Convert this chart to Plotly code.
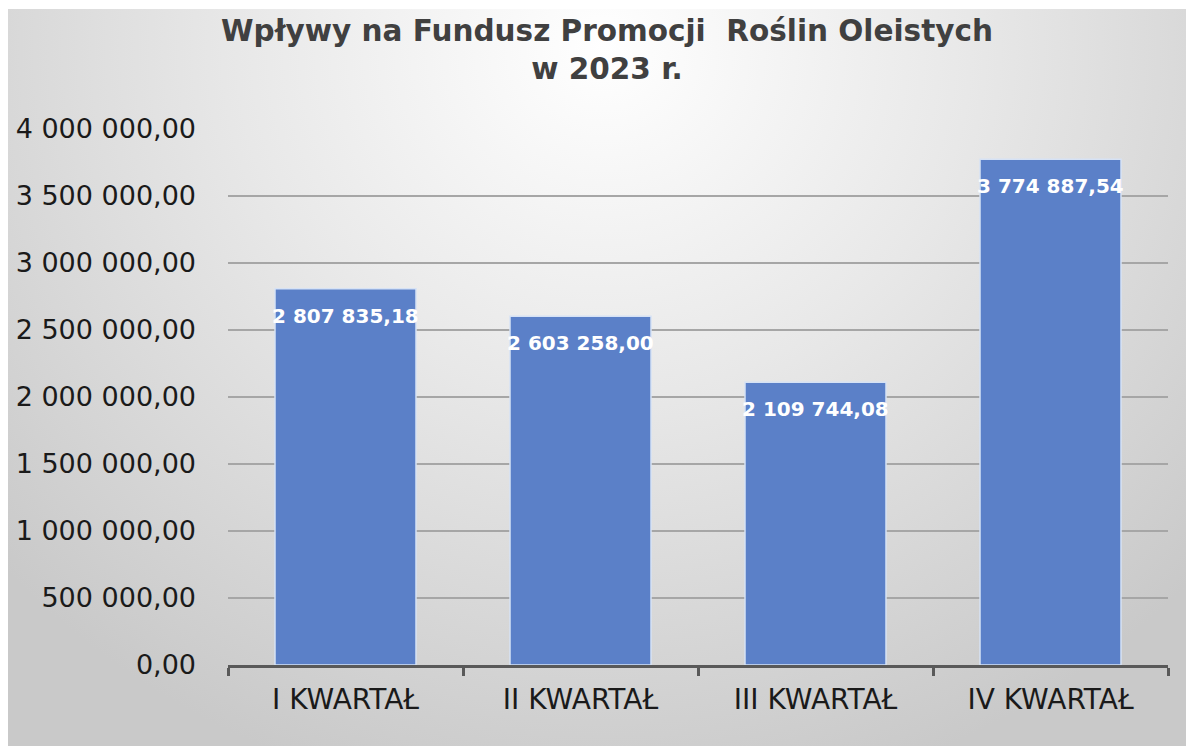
import base64
import plotly.graph_objects as go

categories = ["I KWARTAŁ", "II KWARTAŁ", "III KWARTAŁ", "IV KWARTAŁ"]
values = [2807835.18, 2603258.00, 2109744.08, 3774887.54]
y_ticks = [0, 500000, 1000000, 1500000, 2000000, 2500000, 3000000, 3500000, 4000000]
title_lines = ["Wpływy na Fundusz Promocji\u00a0 Roślin Oleistych", "w 2023 r."]


def pl_fmt(v):
    return f"{v:,.2f}".replace(",", " ").replace(".", ",")


W, H = 1186, 746
L, R, T, B = 228, 1168, 129, 665
pw, ph = R - L, B - T

svg = f"""<svg xmlns='http://www.w3.org/2000/svg' width='{W}' height='{H}' viewBox='0 0 {W} {H}' preserveAspectRatio='none'>
<defs><radialGradient id='g' gradientUnits='userSpaceOnUse' cx='600' cy='40' r='820'
 gradientTransform='translate(600 40) scale(1 0.95) translate(-600 -40)'>
<stop offset='0' stop-color='#ffffff'/><stop offset='0.45' stop-color='#e8e8e8'/>
<stop offset='1' stop-color='#c9c9c9'/></radialGradient></defs>
<rect x='0' y='0' width='{W}' height='{H}' fill='url(#g)'/></svg>"""
src = "data:image/svg+xml;base64," + base64.b64encode(svg.encode()).decode()

fx0, fy0 = 8, 9  # frame top-left in pixels
img_x = (fx0 - L) / pw
img_y = (B - fy0) / ph
img_sx = (W - fx0) / pw
img_sy = (H - fy0) / ph

fig = go.Figure()
fig.add_trace(go.Bar(
    x=categories, y=values,
    marker=dict(color="#5b80c8", line=dict(color="#d6e2f5", width=1.5)),
    hoverinfo="x+y",
))

for c, v in zip(categories, values):
    fig.add_annotation(x=c, y=v, text=pl_fmt(v), showarrow=False,
                       yanchor="middle", yshift=-27,
                       font=dict(family="DejaVu Sans", size=20, color="white", weight="bold"))

fig.add_annotation(x=(607 - L) / pw, y=(B - 50) / ph, xref="paper", yref="paper",
                   text="<br>".join(title_lines), showarrow=False,
                   xanchor="center", yanchor="middle", align="center",
                   font=dict(family="DejaVu Sans", size=29.5, color="#404040", weight="bold"))

fig.update_layout(
    width=W, height=H,
    margin=dict(l=L, r=W - R, t=T, b=H - B, autoexpand=False),
    paper_bgcolor="white", plot_bgcolor="rgba(0,0,0,0)",
    separators=", ",
    bargap=0.4,
    showlegend=False,
    font=dict(family="DejaVu Sans", size=27, color="#1a1a1a"),
    images=[dict(source=src, xref="paper", yref="paper", x=img_x, y=img_y,
                 sizex=img_sx, sizey=img_sy, xanchor="left", yanchor="top",
                 sizing="stretch", layer="below")],
    xaxis=dict(showgrid=False, showline=True, linecolor="#595959", linewidth=3,
               ticks="outside", tickson="boundaries", ticklen=8, tickwidth=3,
               tickcolor="#595959", ticklabelstandoff=7,
               tickfont=dict(size=28, color="#1a1a1a")),
    yaxis=dict(range=[0, 4000000], tickvals=y_ticks, tickformat=",.2f",
               showgrid=True, gridcolor="#a6a6a6", gridwidth=2,
               zeroline=False, showline=False, ticks="",
               ticklabelstandoff=31, tickfont=dict(size=27, color="#1a1a1a")),
)

fig.write_html("out.html", config={"displayModeBar": False},
               post_script="document.body.style.margin='0';")
